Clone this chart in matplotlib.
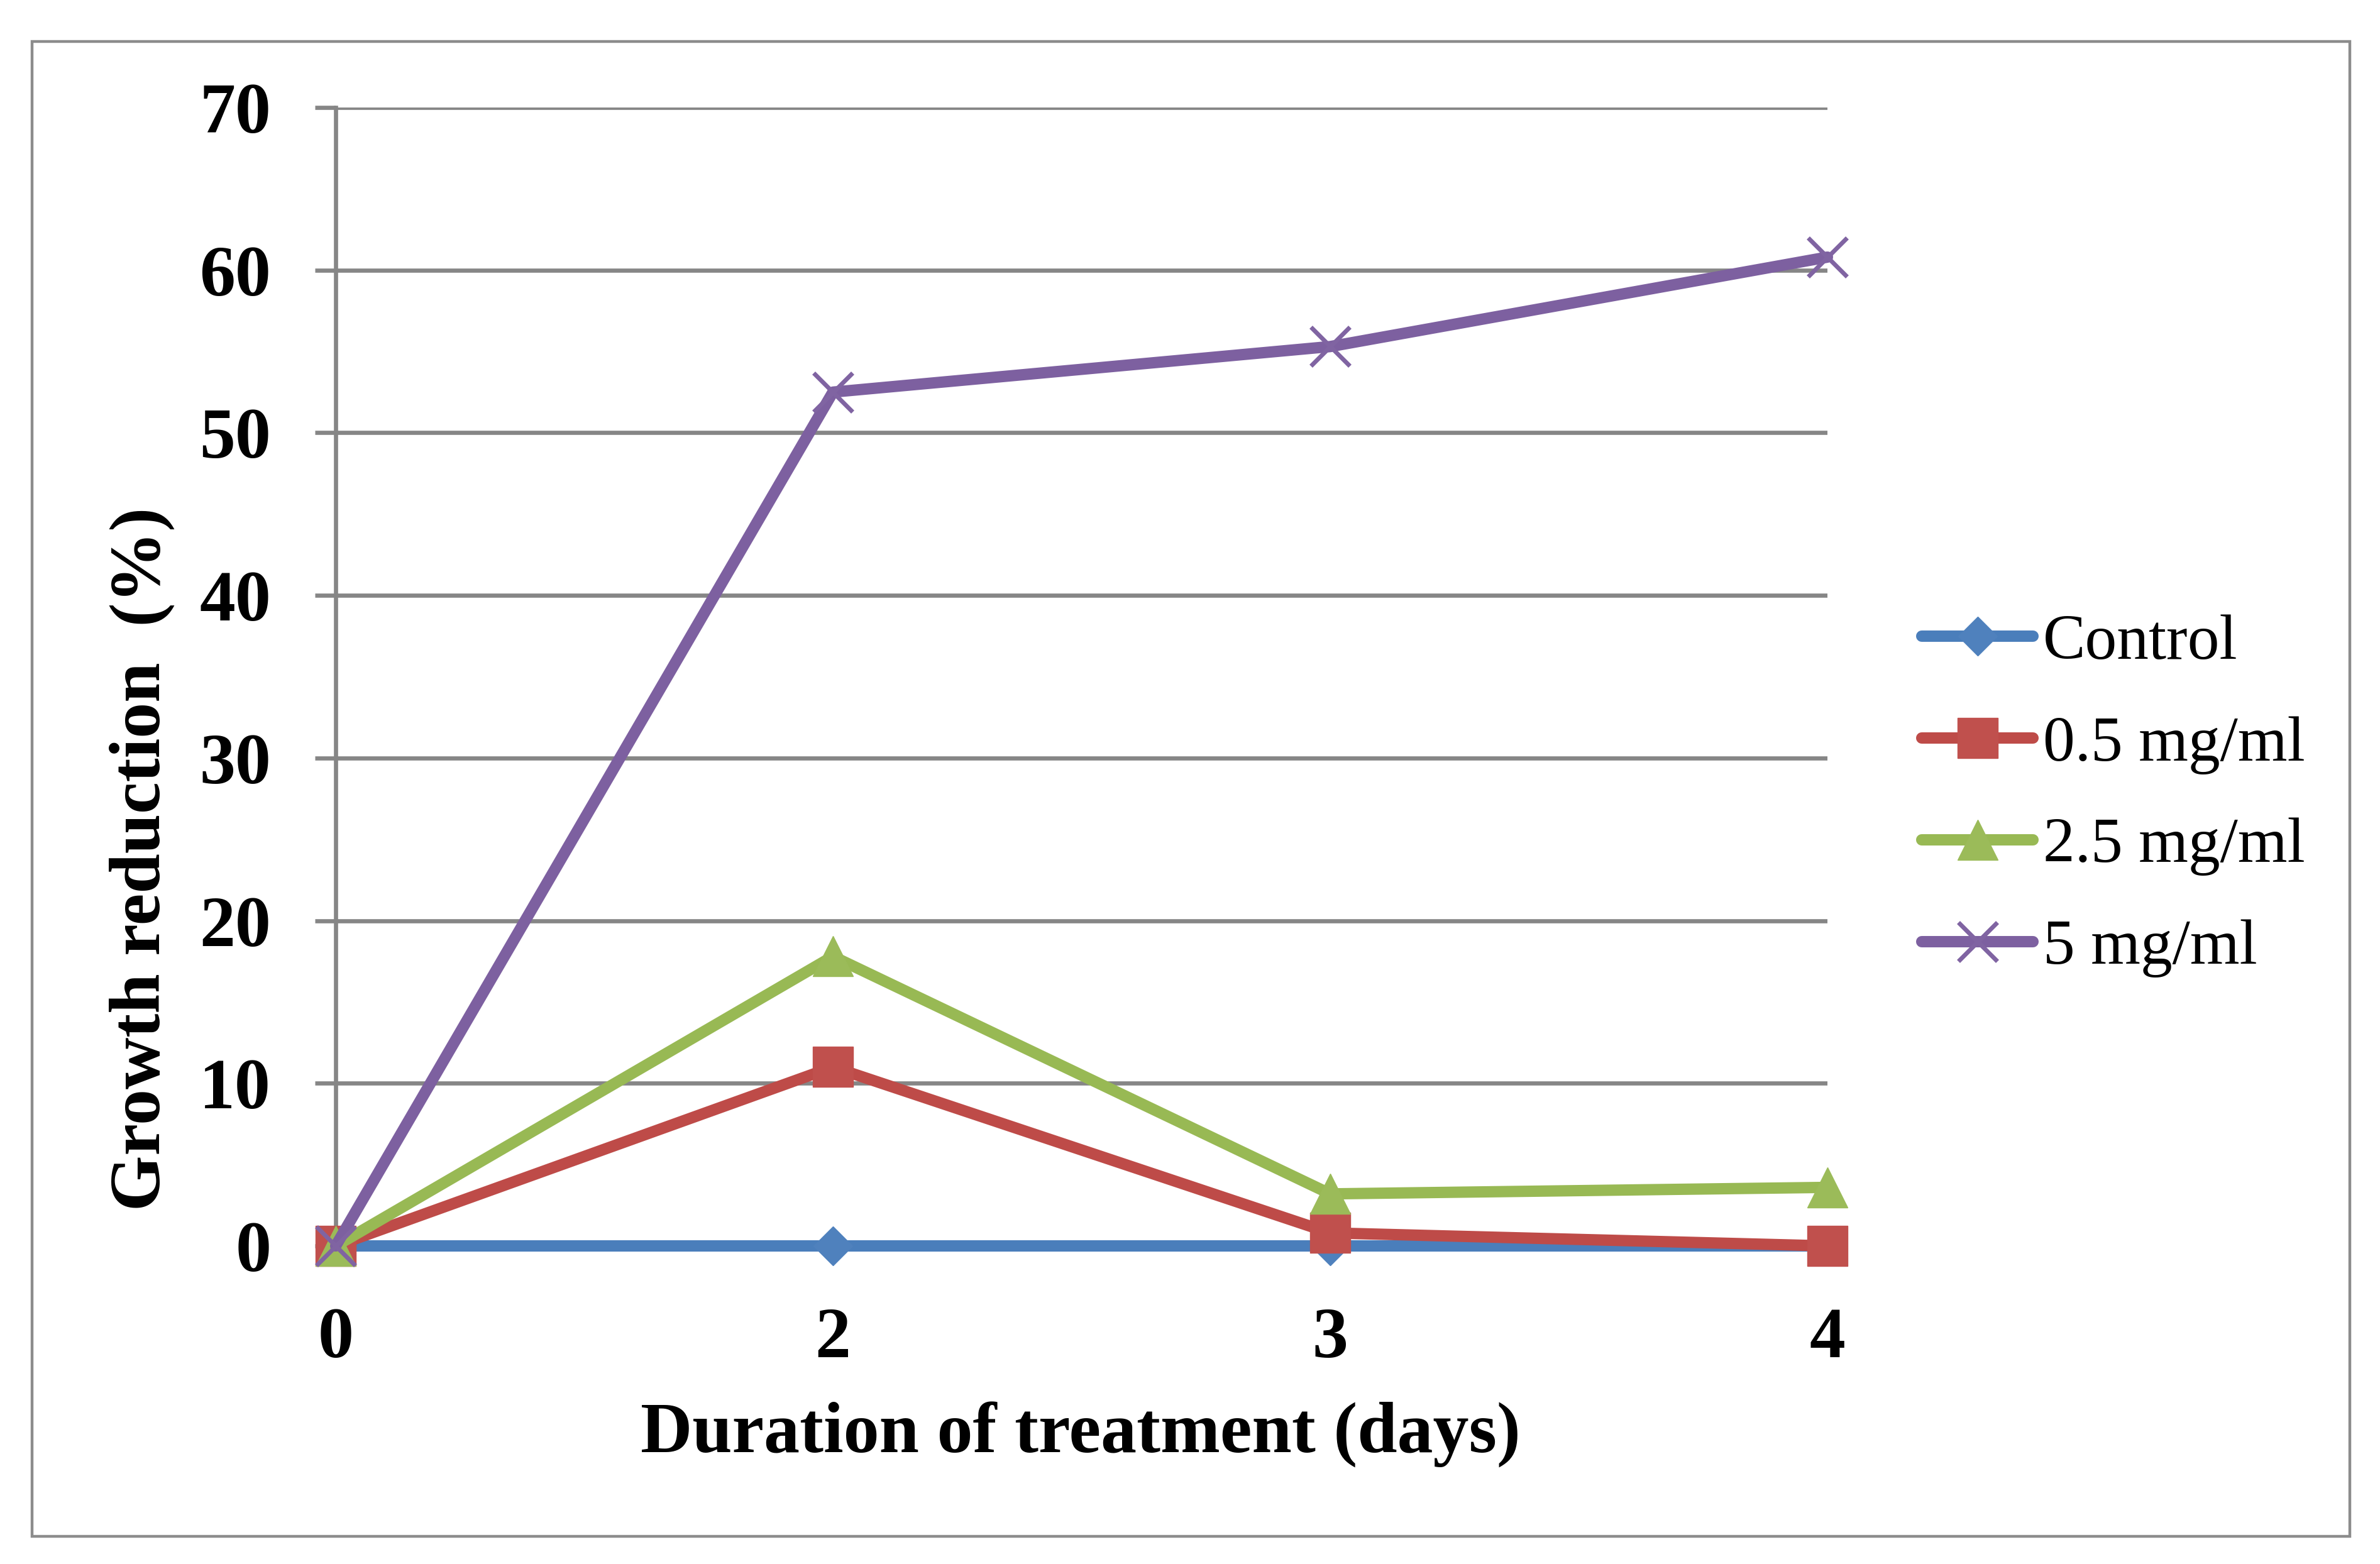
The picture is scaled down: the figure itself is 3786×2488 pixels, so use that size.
import matplotlib
matplotlib.use("Agg")
import matplotlib.pyplot as plt
from matplotlib.patches import Rectangle

# data
days = ["0", "2", "3", "4"]
control = [0, 0, 0, 0]
dose_05 = [0, 11.0, 0.8, 0.0]
dose_25 = [0, 17.8, 3.2, 3.6]
dose_5 = [0, 52.5, 55.3, 60.8]
y_ticks = [0, 10, 20, 30, 40, 50, 60, 70]

W, H, DPI = 3786, 2488, 200
plt.rcParams["font.family"] = ["Liberation Serif", "DejaVu Serif"]

fig = plt.figure(figsize=(W / DPI, H / DPI), dpi=DPI)
fig.patches.append(Rectangle((51 / W, 1 - 2444 / H), (3738 - 51) / W, (2444 - 66) / H,
                             transform=fig.transFigure, fill=False,
                             edgecolor="#8c8c8c", linewidth=1.6, zorder=0))

ax = fig.add_axes([534 / W, 1 - 1982 / H, (2907 - 534) / W, (1982 - 171) / H])
x = list(range(len(days)))

series = [
    ("Control", control, "#4a7ebb", "#4f81bd", "D", 16),
    ("0.5 mg/ml", dose_05, "#be4b48", "#c0504d", "s", 23),
    ("2.5 mg/ml", dose_25, "#98b954", "#9bbb59", "^", 23),
    ("5 mg/ml", dose_5, "#7d60a0", "#8064a2", "x", 22),
]
for i, (name, vals, lc, mc, mk, ms) in enumerate(series):
    ax.plot(x, vals, color=lc, lw=6.5, marker=mk, ms=ms, mfc=mc, mec=mc,
            mew=2.5 if mk == "x" else 0.5, label=name, clip_on=False,
            solid_capstyle="round", zorder=3 + i)

ax.set_xlim(0, 3)
ax.set_ylim(0, 70)
ax.set_yticks(y_ticks)
ax.set_xticks(x)
ax.set_xticklabels(days)
ax.grid(axis="y", color="#868686", lw=2.4, zorder=1)
ax.set_axisbelow(True)
for s in ["top", "right", "bottom"]:
    ax.spines[s].set_visible(False)
ax.spines["left"].set_color("#868686")
ax.spines["left"].set_linewidth(2.4)
ax.tick_params(axis="y", length=12, width=2.4, color="#868686", pad=25)
ax.tick_params(axis="x", length=0, pad=35)
for lab in ax.get_xticklabels() + ax.get_yticklabels():
    lab.set_fontsize(41)
    lab.set_fontweight("bold")

fig.text(1719 / W, 1 - 2282 / H, "Duration of treatment (days)", fontsize=41,
         fontweight="bold", ha="center", va="center")
fig.text(226 / W, 1 - 1366 / H, "Growth reduction  (%)", fontsize=41,
         fontweight="bold", ha="center", va="center", rotation=90)

ax.legend(loc="center left", bbox_to_anchor=(3057 / W, 1 - 1266 / H),
          bbox_transform=fig.transFigure, frameon=False, fontsize=36.5,
          handlelength=1.75, handletextpad=0.15, labelspacing=0.68,
          borderpad=0, borderaxespad=0, numpoints=1)

fig.savefig("out.png", dpi=DPI)
